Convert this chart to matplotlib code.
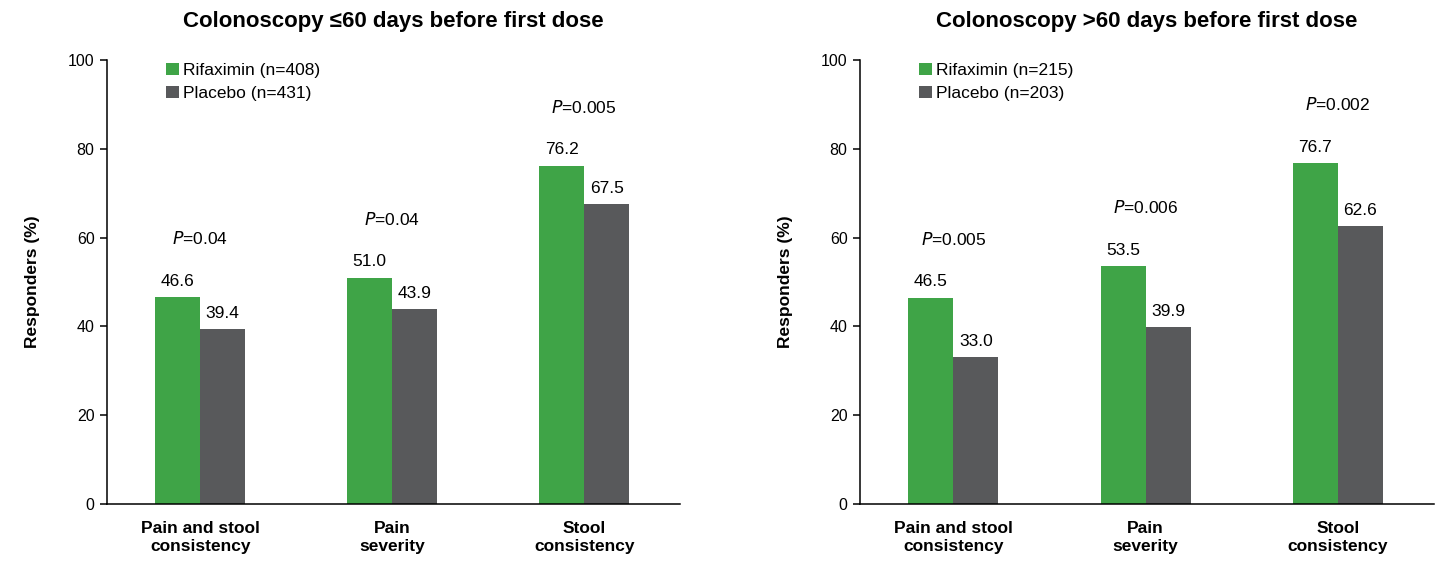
import matplotlib

matplotlib.use("Agg")

import matplotlib.pyplot as plt
import numpy as np

plt.rcParams["font.family"] = ["Liberation Sans", "DejaVu Sans"]

categories = ["Pain and stool\nconsistency", "Pain\nseverity", "Stool\nconsistency"]

titles = ["Colonoscopy \u226460 days before first dose", "Colonoscopy >60 days before first dose"]
rifaximin_labels = ["Rifaximin (n=408)", "Rifaximin (n=215)"]
placebo_labels = ["Placebo (n=431)", "Placebo (n=203)"]

rifaximin_le60 = [46.6, 51.0, 76.2]
placebo_le60 = [39.4, 43.9, 67.5]
pvalues_le60 = ["0.04", "0.04", "0.005"]

rifaximin_gt60 = [46.5, 53.5, 76.7]
placebo_gt60 = [33.0, 39.9, 62.6]
pvalues_gt60 = ["0.005", "0.006", "0.002"]

GREEN = "#3fa447"
GREY = "#58595b"

fig = plt.figure(figsize=(14.43, 5.61), dpi=100)
ax_left = fig.add_axes([0.0742, 0.1016, 0.3971, 0.7914])
ax_right = fig.add_axes([0.5960, 0.1016, 0.3978, 0.7914])

panels = [
    (ax_left, titles[0], rifaximin_le60, placebo_le60, pvalues_le60, rifaximin_labels[0], placebo_labels[0]),
    (ax_right, titles[1], rifaximin_gt60, placebo_gt60, pvalues_gt60, rifaximin_labels[1], placebo_labels[1]),
]

x = np.arange(len(categories))
width = 0.234

for ax, title, rif, pla, pvals, rif_label, pla_label in panels:
    bars_r = ax.bar(x - width / 2, rif, width, color=GREEN, label=rif_label)
    bars_p = ax.bar(x + width / 2, pla, width, color=GREY, label=pla_label)

    for bars, vals in ((bars_r, rif), (bars_p, pla)):
        for bar, val in zip(bars, vals):
            ax.annotate(f"{val:.1f}", (bar.get_x() + bar.get_width() / 2, val),
                        xytext=(0, 6), textcoords="offset points",
                        ha="center", va="bottom", fontsize=12.5)

    for xi, r, p, pv in zip(x, rif, pla, pvals):
        top = max(r, p)
        ax.annotate(f"$\\it{{P}}$=" + pv, (xi, top), xytext=(0, 36),
                    textcoords="offset points", ha="center", va="bottom", fontsize=12.5)

    ax.set_xlim(-0.486, 2.5)
    ax.set_ylim(0, 100)
    ax.set_yticks(range(0, 101, 20))
    ax.tick_params(axis="y", labelsize=11.5, length=5, width=1.1, direction="out", pad=4)
    ax.set_xticks(x)
    ax.set_xticklabels(categories, fontsize=12.5, fontweight="bold", linespacing=1.25)
    ax.tick_params(axis="x", length=0, pad=12)
    for side in ("top", "right"):
        ax.spines[side].set_visible(False)
    for side in ("left", "bottom"):
        ax.spines[side].set_linewidth(1.1)

    ax.set_ylabel("Responders (%)", fontsize=12.5, fontweight="bold", labelpad=20)
    ax.set_title(title, fontsize=16, fontweight="bold", pad=24)

    ax.legend(loc="upper left", bbox_to_anchor=(0.09, 1.01), frameon=False,
              fontsize=12.5, handlelength=0.75, handleheight=0.75,
              handletextpad=0.25, labelspacing=0.45, borderaxespad=0)

fig.savefig("out.png", dpi=100)
plt.close(fig)
